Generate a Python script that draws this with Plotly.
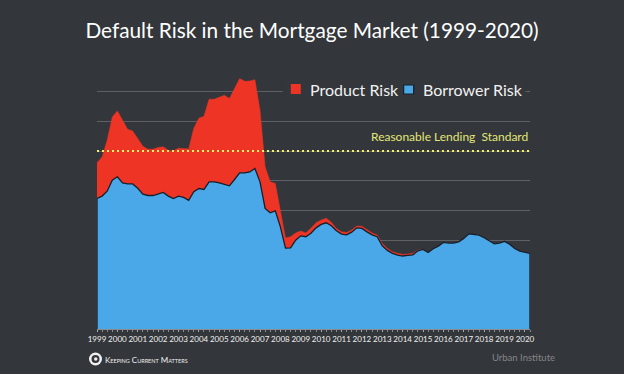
import plotly.graph_objects as go

YEARS = list(range(1999, 2021))
QUARTERS = [1999 + k / 4 for k in range(86)]

BORROWER = [8.80,8.96,9.29,10.03,10.26,9.85,9.78,9.78,9.49,9.09,9.00,9.00,9.09,9.21,8.96,8.80,8.96,8.87,8.67,9.25,
            9.47,9.41,9.92,9.92,9.85,9.76,9.65,10.08,10.53,10.53,10.59,10.82,9.92,8.13,7.83,7.97,6.89,5.45,5.47,5.99,
            6.28,6.22,6.46,6.82,7.05,7.16,6.96,6.62,6.40,6.35,6.53,6.82,6.78,6.55,6.35,6.22,5.61,5.30,5.10,4.98,
            4.92,4.96,5.00,5.27,5.37,5.16,5.41,5.59,5.84,5.79,5.79,5.88,6.11,6.42,6.40,6.33,6.15,5.93,5.74,5.79,
            5.91,5.72,5.43,5.25,5.19,5.10]
TOTAL = [11.20,11.60,12.73,14.30,14.70,14.07,13.47,13.35,12.86,12.32,12.12,12.12,12.24,12.28,12.05,12.01,12.19,12.14,12.14,13.54,
         14.21,14.34,15.49,15.49,15.64,15.76,15.54,16.21,16.88,16.70,16.72,16.81,14.75,10.93,9.92,9.81,8.01,6.13,6.22,6.48,
         6.60,6.48,6.80,7.16,7.34,7.47,7.19,6.78,6.55,6.51,6.67,6.94,6.92,6.67,6.48,6.33,5.77,5.43,5.21,5.10,
         5.03,5.05,5.10,5.32,5.37,5.16,5.41,5.59,5.84,5.79,5.79,5.88,6.11,6.42,6.40,6.33,6.15,5.93,5.74,5.79,
         5.91,5.72,5.43,5.25,5.19,5.10]
STANDARD = 12
GRID_VALUES = [2, 4, 6, 8, 10, 12, 14, 16, 18]

BG = "#33363a"
RED = "#ee3424"
BLUE = "#4aa8e8"
OUTLINE = "#14202c"

fig = go.Figure()
fig.add_trace(go.Scatter(x=QUARTERS, y=TOTAL, mode="lines", fill="tozeroy", fillcolor=RED, name="Product Risk",
                         line=dict(color=RED, width=0.5), showlegend=False, hoverinfo="skip"))
fig.add_trace(go.Scatter(x=QUARTERS, y=BORROWER, mode="lines", fill="tozeroy", fillcolor=BLUE, name="Borrower Risk",
                         line=dict(width=0), showlegend=False, hoverinfo="skip"))
fig.add_trace(go.Scatter(x=[QUARTERS[0]] + QUARTERS + [QUARTERS[-1]], y=[0] + BORROWER + [0], mode="lines",
                         line=dict(color=OUTLINE, width=1.3), cliponaxis=False, showlegend=False, hoverinfo="skip"))
fig.add_trace(go.Scatter(x=[QUARTERS[0], QUARTERS[-1]], y=[STANDARD, STANDARD], mode="lines",
                         line=dict(color="#f4f36a", width=2, dash="2px 3px"), showlegend=False, hoverinfo="skip"))

def px(v):
    return (v - 97) / 433.5

def py(v):
    return (329 - v) / 267

def rect(x0, x1, y0, y1, fill, line=None):
    return dict(type="rect", xref="paper", yref="paper", x0=px(x0), x1=px(x1), y0=py(y1), y1=py(y0),
                fillcolor=fill, line=line or dict(width=0), layer="above")

def disc(x0, x1, y0, y1, fill):
    return dict(type="circle", xref="paper", yref="paper", x0=px(x0), x1=px(x1), y0=py(y1), y1=py(y0),
                fillcolor=fill, line=dict(width=0))

fig.update_layout(
    width=624, height=374, margin=dict(l=97, r=93.5, t=62, b=45),
    paper_bgcolor=BG, plot_bgcolor=BG, showlegend=False,
    font=dict(family="Lato", color="#ffffff"),
    title=dict(text="Default Risk in the Mortgage Market (1999-2020)", x=0.5, xanchor="center",
               y=0.917, yanchor="middle", font=dict(size=20.8, color="#ffffff")),
    xaxis=dict(range=[QUARTERS[0], QUARTERS[-1]], tickvals=YEARS, ticktext=[str(y) for y in YEARS], tickangle=0,
               tickfont=dict(size=8, color="#f0f0f0"), ticks="outside", ticklen=2, tickcolor="#a8a8a8",
               showgrid=False, zeroline=False, showline=True, linecolor="#8a8a8a", linewidth=1,
               minor=dict(dtick=0.25, ticks="outside", ticklen=2, tickcolor="#8a8a8a", showgrid=False)),
    yaxis=dict(range=[0, 18], tickvals=GRID_VALUES, showticklabels=False, ticks="",
               showgrid=True, gridcolor="#5e6064", gridwidth=1, zeroline=False, showline=False),
    annotations=[
        dict(text="Product Risk", xref="paper", yref="paper", x=px(308), y=py(89.5), xanchor="left", yanchor="middle",
             showarrow=False, font=dict(size=16, color="#f2f2f2")),
        dict(text="Borrower Risk", xref="paper", yref="paper", x=px(421), y=py(89.5), xanchor="left", yanchor="middle",
             showarrow=False, font=dict(size=16, color="#f2f2f2")),
        dict(text="Reasonable Lending  Standard", xref="paper", yref="y", x=1, y=12.95, xanchor="right", yanchor="middle",
             showarrow=False, font=dict(size=12, color="#e4e678")),
        dict(text="Urban Institute", xref="paper", yref="paper", x=px(558), y=py(357), xanchor="right", yanchor="middle",
             showarrow=False, font=dict(size=9.5, color="#85878a")),
        dict(text="K<span style='font-size:5.5px'>EEPING</span> C<span style='font-size:5.5px'>URRENT</span> M<span style='font-size:5.5px'>ATTERS</span>",
             xref="paper", yref="paper", x=px(103), y=py(360), xanchor="left", yanchor="middle",
             showarrow=False, font=dict(size=8, color="#f0f0f0")),
    ],
    shapes=[
        rect(283, 526, 80, 102, BG),
        rect(291, 301, 84, 94, RED),
        rect(404, 414, 85, 94, BLUE, dict(color=OUTLINE, width=1.2)),
        disc(89, 102, 352.5, 365.5, "#f0f0f0"),
        disc(91.5, 99.5, 355, 363, BG),
        disc(94, 97.5, 357.2, 360.7, "#f0f0f0"),
    ],
)
fig.write_html("out.html", config=dict(displayModeBar=False),
               post_script="document.body.style.margin='0';document.documentElement.style.overflow='hidden';window.dispatchEvent(new Event('resize'));")
